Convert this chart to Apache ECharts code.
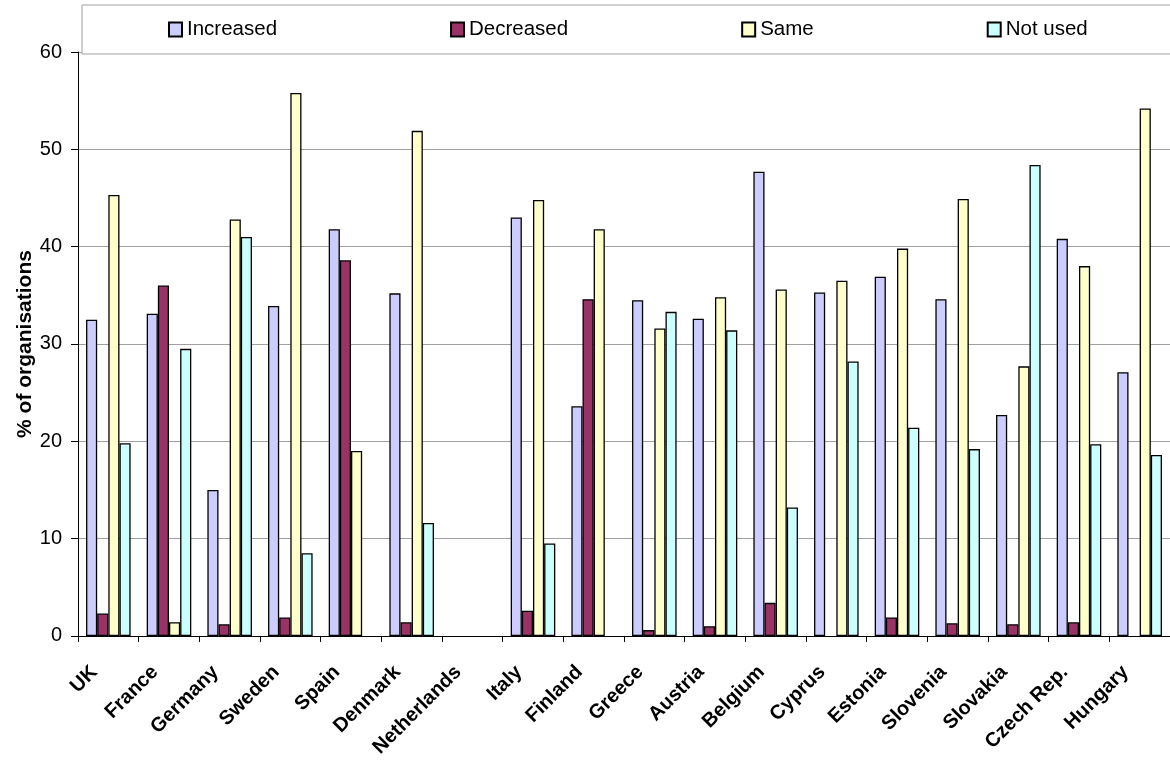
<!DOCTYPE html>
<html>
<head>
<meta charset="utf-8">
<style>
  html, body { margin: 0; padding: 0; background: #fff; }
  #chart { width: 1170px; height: 760px; }
</style>
<script src="https://cdn.jsdelivr.net/npm/echarts@6/dist/echarts.min.js"></script>
</head>
<body>
<div id="chart"></div>
<script>
const categories = ['UK', 'France', 'Germany', 'Sweden', 'Spain', 'Denmark', 'Netherlands', 'Italy', 'Finland', 'Greece', 'Austria', 'Belgium', 'Cyprus', 'Estonia', 'Slovenia', 'Slovakia', 'Czech Rep.', 'Hungary'];
const increased = [32.5, 33.1, 15.0, 33.9, 41.8, 35.2, '-', 43.0, 23.6, 34.5, 32.6, 47.7, 35.3, 36.9, 34.6, 22.7, 40.8, 27.1];
const decreased = [2.3, 36.0, 1.2, 1.9, 38.6, 1.4, '-', 2.6, 34.6, 0.6, 1.0, 3.4, '-', 1.9, 1.3, 1.2, 1.4, '-'];
const same = [45.3, 1.4, 42.8, 55.8, 19.0, 51.9, '-', 44.8, 41.8, 31.6, 34.8, 35.6, 36.5, 39.8, 44.9, 27.7, 38.0, 54.2];
const notUsed = [19.8, 29.5, 41.0, 8.5, '-', 11.6, '-', 9.5, '-', 33.3, 31.4, 13.2, 28.2, 21.4, 19.2, 48.4, 19.7, 18.6];
const seriesNames = ['Increased', 'Decreased', 'Same', 'Not used'];
const yTicks = { min: 0, max: 60, interval: 10 };
const yTitle = '% of organisations';

const FONT = '"Liberation Sans", Arial, Helvetica, sans-serif';
const colors = ['#CCCCFF', '#993366', '#FFFFCC', '#CCFFFF'];
const seriesData = [increased, decreased, same, notUsed];

const chart = echarts.init(document.getElementById('chart'), null, { renderer: 'canvas' });
chart.setOption({
  animation: false,
  backgroundColor: '#ffffff',
  textStyle: { fontFamily: FONT },
  grid: { left: 78, right: -5, top: 52, bottom: 124, containLabel: false },
  legend: {
    data: seriesNames,
    left: 82,
    top: 5,
    width: 1000,
    orient: 'horizontal',
    padding: [14, 160, 14, 86],
    itemGap: 173,
    itemWidth: 13,
    itemHeight: 14,
    icon: 'rect',
    backgroundColor: '#ffffff',
    borderColor: '#a0a0a0',
    borderWidth: 1,
    borderRadius: 0,
    z: 10,
    textStyle: { fontFamily: FONT, fontSize: 20.5, color: '#000', lineHeight: 21 }
  },
  xAxis: {
    type: 'category',
    data: categories,
    boundaryGap: true,
    axisLine: { show: true, lineStyle: { color: '#000', width: 1 } },
    axisTick: { show: true, length: 6, lineStyle: { color: '#000' } },
    axisLabel: {
      interval: 0,
      rotate: 45,
      margin: 19,
      padding: [0, 20, 0, 0],
      fontFamily: FONT,
      fontSize: 20,
      fontWeight: 'bold',
      color: '#000'
    },
    splitLine: { show: false }
  },
  yAxis: {
    type: 'value',
    min: yTicks.min,
    max: yTicks.max,
    interval: yTicks.interval,
    name: yTitle,
    nameLocation: 'middle',
    nameGap: 42,
    nameMoveOverlap: false,
    nameTextStyle: { fontFamily: FONT, fontSize: 21, fontWeight: 'bold', color: '#000' },
    axisLine: { show: true, lineStyle: { color: '#000', width: 1 } },
    axisTick: { show: true, length: 7, lineStyle: { color: '#000' } },
    axisLabel: { margin: 16, fontFamily: FONT, fontSize: 20, color: '#000' },
    splitLine: { show: true, lineStyle: { color: '#a0a0a0', width: 1 } }
  },
  series: seriesNames.map((name, i) => ({
    name: name,
    type: 'bar',
    data: seriesData[i],
    barGap: '0%',
    barCategoryGap: '26.5%',
    itemStyle: { color: colors[i], borderColor: '#000', borderWidth: 1.3 },
    emphasis: { disabled: true }
  }))
});
</script>
</body>
</html>
